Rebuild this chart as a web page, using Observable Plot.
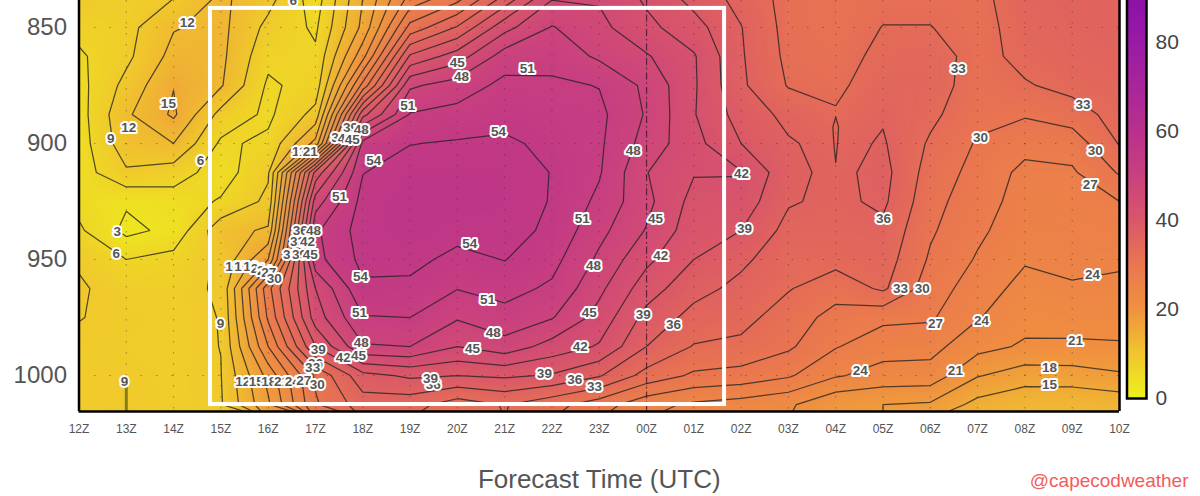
<!DOCTYPE html>
<html><head><meta charset="utf-8">
<script src="https://cdn.jsdelivr.net/npm/d3@7"></script>
<script src="https://cdn.jsdelivr.net/npm/@observablehq/plot@0.6"></script>
<style>
html,body{margin:0;padding:0;background:#fff;overflow:hidden}
#wrap{position:relative;width:1200px;height:496px;font-family:"Liberation Sans",Arial,sans-serif}
#wrap svg{position:absolute;top:0;background:transparent}
</style></head><body><div id="wrap"></div>
<script>
const hours=["12Z","13Z","14Z","15Z","16Z","17Z","18Z","19Z","20Z","21Z","22Z","23Z","00Z","01Z","02Z","03Z","04Z","05Z","06Z","07Z","08Z","09Z","10Z"];
const levels=[837.5,850,862.5,875,887.5,900,912.5,925,937.5,950,962.5,975,987.5,1000,1012.5];
const h12=[8.8,7,5.5,5,4.7,4.5,4.5,5,6.5,8.7,9.3,9.1,8.4,8.3,8.3];
const h13=[8,8,8.3,9.9,11.5,10.8,8.6,3.4,2.2,6,8,8.3,8.2,8.6,8.8];
const h14=[9,11.8,13,14.9,15.5,12,7.5,4.5,3.8,7,8,8,8,8,8];
const h15=[12.6,12.8,12.7,12.3,8,5.5,4.5,6.3,11,9.5,9.4,9.1,9.05,8.9,8.7];
const h16=[10,8.2,6.8,5.5,5.4,6.6,8.6,9.7,12.4,18,29,27.5,24,19,17.5];
const h17=[4.5,5.5,6.5,7.2,10,16,40,46.5,50.5,50,45,43.5,39,30.5,29.6];
const h18=[15,15.8,20,28,41,52,53.9,55,55.3,54.8,53.5,50.8,47.7,38,34.5];
const h19=[25,31,39.5,47.5,51.2,53.9,55.5,56.3,56.5,55,53.2,51,48,39.5,34.2];
const h20=[29,36.3,43.5,49.4,52,54.3,55.8,56.5,55.2,53,51.1,48.3,45,39,31.5];
const h21=[37,44,49.5,51.8,53,54.5,55.5,55.8,55.3,54.1,52,50,46.8,39.5,33.2];
const h22=[44.8,48.2,50,51.5,52.5,53.3,53.9,53.8,53.3,52,50.5,48.2,43.8,38.7,31];
const h23=[44.7,45.8,47.5,50.9,51.7,51.5,51.3,50.3,48.9,47.4,45.7,43.9,41.7,36.3,28.5];
const h00=[41.5,42.8,45.3,47.3,47.7,46.8,45.1,45.8,44.8,42.7,40.4,38,36,31.9,25];
const h01=[38,40.2,42.3,42.4,42.2,43,42.2,41,40.3,39,37,35,32.8,29.5,23.5];
const h02=[35,36.1,36.3,36.5,37.7,39,42.2,40.7,39,36.6,35.2,34,32.3,28.9,22.7];
const h03=[32,32,32.3,32.8,35.2,36.3,36.8,36.3,35,34.2,33.2,31.5,30.5,27.4,21.5];
const h04=[31,31,31.5,32.3,33.3,35,35.2,35.3,35,34,31.2,29,27.2,24.3,18.5];
const h05=[32,33.1,34,34.8,35.7,36.3,37,36.6,35.3,34.5,33.5,27.7,25.2,22.9,18];
const h06=[32,33.1,34.5,34.5,33.7,32.6,31.7,31,30.4,29.6,28.5,27.4,25,22.8,17.6];
const h07=[32,31.5,31.8,31.5,30.9,29.7,29,28.3,27.6,26.7,25.5,24.2,22,18.2,14];
const h08=[35,34.8,34,32.7,30.3,28,26.2,25.8,25.2,24.3,23,22,20.6,16.5,12.6];
const h09=[35.7,35.5,35,34,31.5,28.3,26.6,26,25.5,25,23.6,22.3,20.5,16.7,12.4];
const h10=[35.8,35.6,35.4,35,34.3,33.2,30.3,27,25.8,24.5,23.3,22.2,20.7,17.6,13];
const columns=[h12,h13,h14,h15,h16,h17,h18,h19,h20,h21,h22,h23,h00,h01,h02,h03,h04,h05,h06,h07,h08,h09,h10];

const labelText=["12","15","12","9","6","3","6","9","6","12","15","21","39","48","36","42","45","51","45","48","51","54","54","48","42","51","51","45","39","54","42","48","54","51","51","39","45","36","48","48","42","45","42","45","39","36","33","39","36","33","36","39","12","15","18","21","24","27","30","36","48","33","42","33","39","45","12","15","18","21","24","27","30","9","33","33","30","30","27","36","24","33","30","27","24","21","24","21","18","15"];
const labelHour=[2.29,1.89,1.05,.67,2.57,.81,.79,.96,4.53,4.66,4.81,4.89,5.74,5.97,5.49,5.63,5.78,6.95,8,8.09,9.48,8.87,6.23,11.72,14.01,5.51,10.64,12.19,14.07,8.26,12.3,10.88,5.95,8.64,5.93,11.93,10.79,12.57,8.76,5.97,10.6,8.32,5.59,5.91,5.06,5,4.94,9.84,10.48,10.9,7.49,7.43,3.46,3.75,4.01,4.28,4.51,4.75,5.04,4.68,4.96,4.62,4.83,4.47,4.66,4.89,3.25,3.44,3.63,3.79,3.92,4.01,4.13,2.99,18.59,21.23,19.06,21.49,21.38,17.01,21.43,17.37,17.83,18.11,19.08,21.07,16.52,18.53,20.52,20.52];
const labelPressure=[847.8,882.8,893.1,897.8,907.3,937.9,947.4,1002.6,838.4,903.4,903.4,903.4,893.1,894,897.4,897.8,898.3,883.6,865.1,871.1,867.7,894.8,907.3,903,912.9,922.8,932.3,932.3,936.6,943.1,948.3,952.6,957.3,967.2,972.8,973.7,972.8,978,981.5,985.8,987.5,988.4,992.2,991.4,988.8,994.8,996.5,999.1,1001.7,1004.7,1003.9,1001.3,1002.6,1002.6,1002.6,1002.6,1002.6,1002.1,1003.9,937.5,937.5,942.2,942.2,947.8,947.8,947.8,953,953,953,953.9,954.7,955.6,958.2,977.6,867.7,883.2,897.4,903,917.7,932.3,956.5,962.5,962.5,977.6,976.3,984.9,997.8,997.8,996.5,1003.9];

const thresholds=[3,6,9,12,15,18,21,24,27,30,33,36,39,42,45,48,51,54];
const colorStops=[0,10,20,30,40,50,60,70,80,90.4];
const colorRange=["#eef01c","#f0c52e","#f09040","#ea7650","#d9566a","#c94080","#b8308c","#a8259a","#9a1aa5","#8a10aa"];
const barTicks=[0,20,40,60,80];
const pressureTicks=[850,900,950,1000];
const lensHour=[16,16.06,16.04,16,15.96,15.94,16];
const lensPressure=[888.4,893,900,908.2,900,893,888.4];
const boxHour=[2.78,13.65];
const boxPressure=[841.8,1012.5];

const grid=levels.flatMap((_,r)=>columns.map(c=>c[r]));
const W=hours.length,H=levels.length;
const extent={width:W,height:H,x1:-.5,x2:22.5,y1:831.25,y2:1018.75};
const colorScale={type:"linear",domain:colorStops,range:colorRange};
const ink="#555";
const font='"Liberation Sans",Arial,sans-serif';

const main=Plot.plot({
  width:1200,height:496,marginLeft:78.5,marginRight:81,marginTop:0,marginBottom:85,
  style:{background:"transparent",fontFamily:font},
  x:{domain:[0,22]},
  y:{domain:[1015.5,838.4]},
  color:colorScale,
  marks:[
    Plot.raster(grid,{...extent,fill:Plot.identity,clip:true}),
    Plot.ruleX(d3.range(0,23),{stroke:"#333",strokeOpacity:.45,strokeDasharray:"1.5,9.5"}),
    Plot.ruleY(pressureTicks,{stroke:"#333",strokeOpacity:.45,strokeDasharray:"1.5,14"}),
    Plot.contour(grid,{...extent,value:Plot.identity,thresholds,fill:"none",stroke:"#222",strokeOpacity:.78,strokeWidth:1.25,clip:true}),
    Plot.line(lensHour.map((h,i)=>[h,lensPressure[i]]),{x:"0",y:"1",stroke:"#222",strokeOpacity:.78,strokeWidth:1.25}),
    Plot.ruleX([1],{y1:1003,y2:1015.5,stroke:"#6b6a10",strokeOpacity:.8,strokeWidth:3}),
    Plot.ruleX([12],{stroke:"#3a1030",strokeOpacity:.75,strokeWidth:1.2,strokeDasharray:"7,3,1.5,3"}),
    Plot.text(labelText,{x:(d,i)=>labelHour[i],y:(d,i)=>labelPressure[i],text:d=>d,fill:ink,stroke:"white",strokeWidth:4,fontSize:13.5,fontWeight:600,clip:true}),
    Plot.rect([0],{x1:boxHour[0],x2:boxHour[1],y1:boxPressure[0],y2:boxPressure[1],fill:"none",stroke:"white",strokeWidth:4}),
    Plot.ruleX([0,22],{stroke:"black",strokeWidth:2.5}),
    Plot.ruleY([1015.5],{stroke:"black",strokeWidth:2.5}),
    Plot.axisX(d3.range(0,23),{tickSize:0,tickPadding:13,tickFormat:i=>hours[i],fontSize:12,fill:ink,label:null}),
    Plot.axisY(pressureTicks,{tickSize:0,tickPadding:12,tickFormat:d=>String(d),fontSize:24,fill:ink,label:null}),
    Plot.text(["Forecast Time (UTC)"],{frameAnchor:"bottom",dy:76,fontSize:26,fill:ink}),
    Plot.text(["@capecodweather"],{frameAnchor:"bottom-right",dx:69,dy:75,fontSize:19,fill:"#f45b5b"})
  ]
});
document.getElementById("wrap").appendChild(main);
main.style.left="0px";

const barSteps=d3.range(0,90.4,.4);
const bar=Plot.plot({
  width:74,height:411,marginLeft:1.5,marginRight:53,marginTop:-4,marginBottom:13,
  style:{background:"transparent",fontFamily:font},
  x:{domain:[0,1],axis:null},
  y:{domain:[0,90.4]},
  color:colorScale,
  marks:[
    Plot.rect(barSteps,{x1:0,x2:1,y1:d=>d,y2:d=>d+.8,fill:d=>d,shapeRendering:"crispEdges"}),
    Plot.frame({stroke:"black",strokeWidth:2.5}),
    Plot.axisY(barTicks,{anchor:"right",tickSize:0,tickPadding:9,fontSize:21,fill:"#444",label:null})
  ]
});
bar.style.left="1125px";
document.getElementById("wrap").appendChild(bar);
</script></body></html>
